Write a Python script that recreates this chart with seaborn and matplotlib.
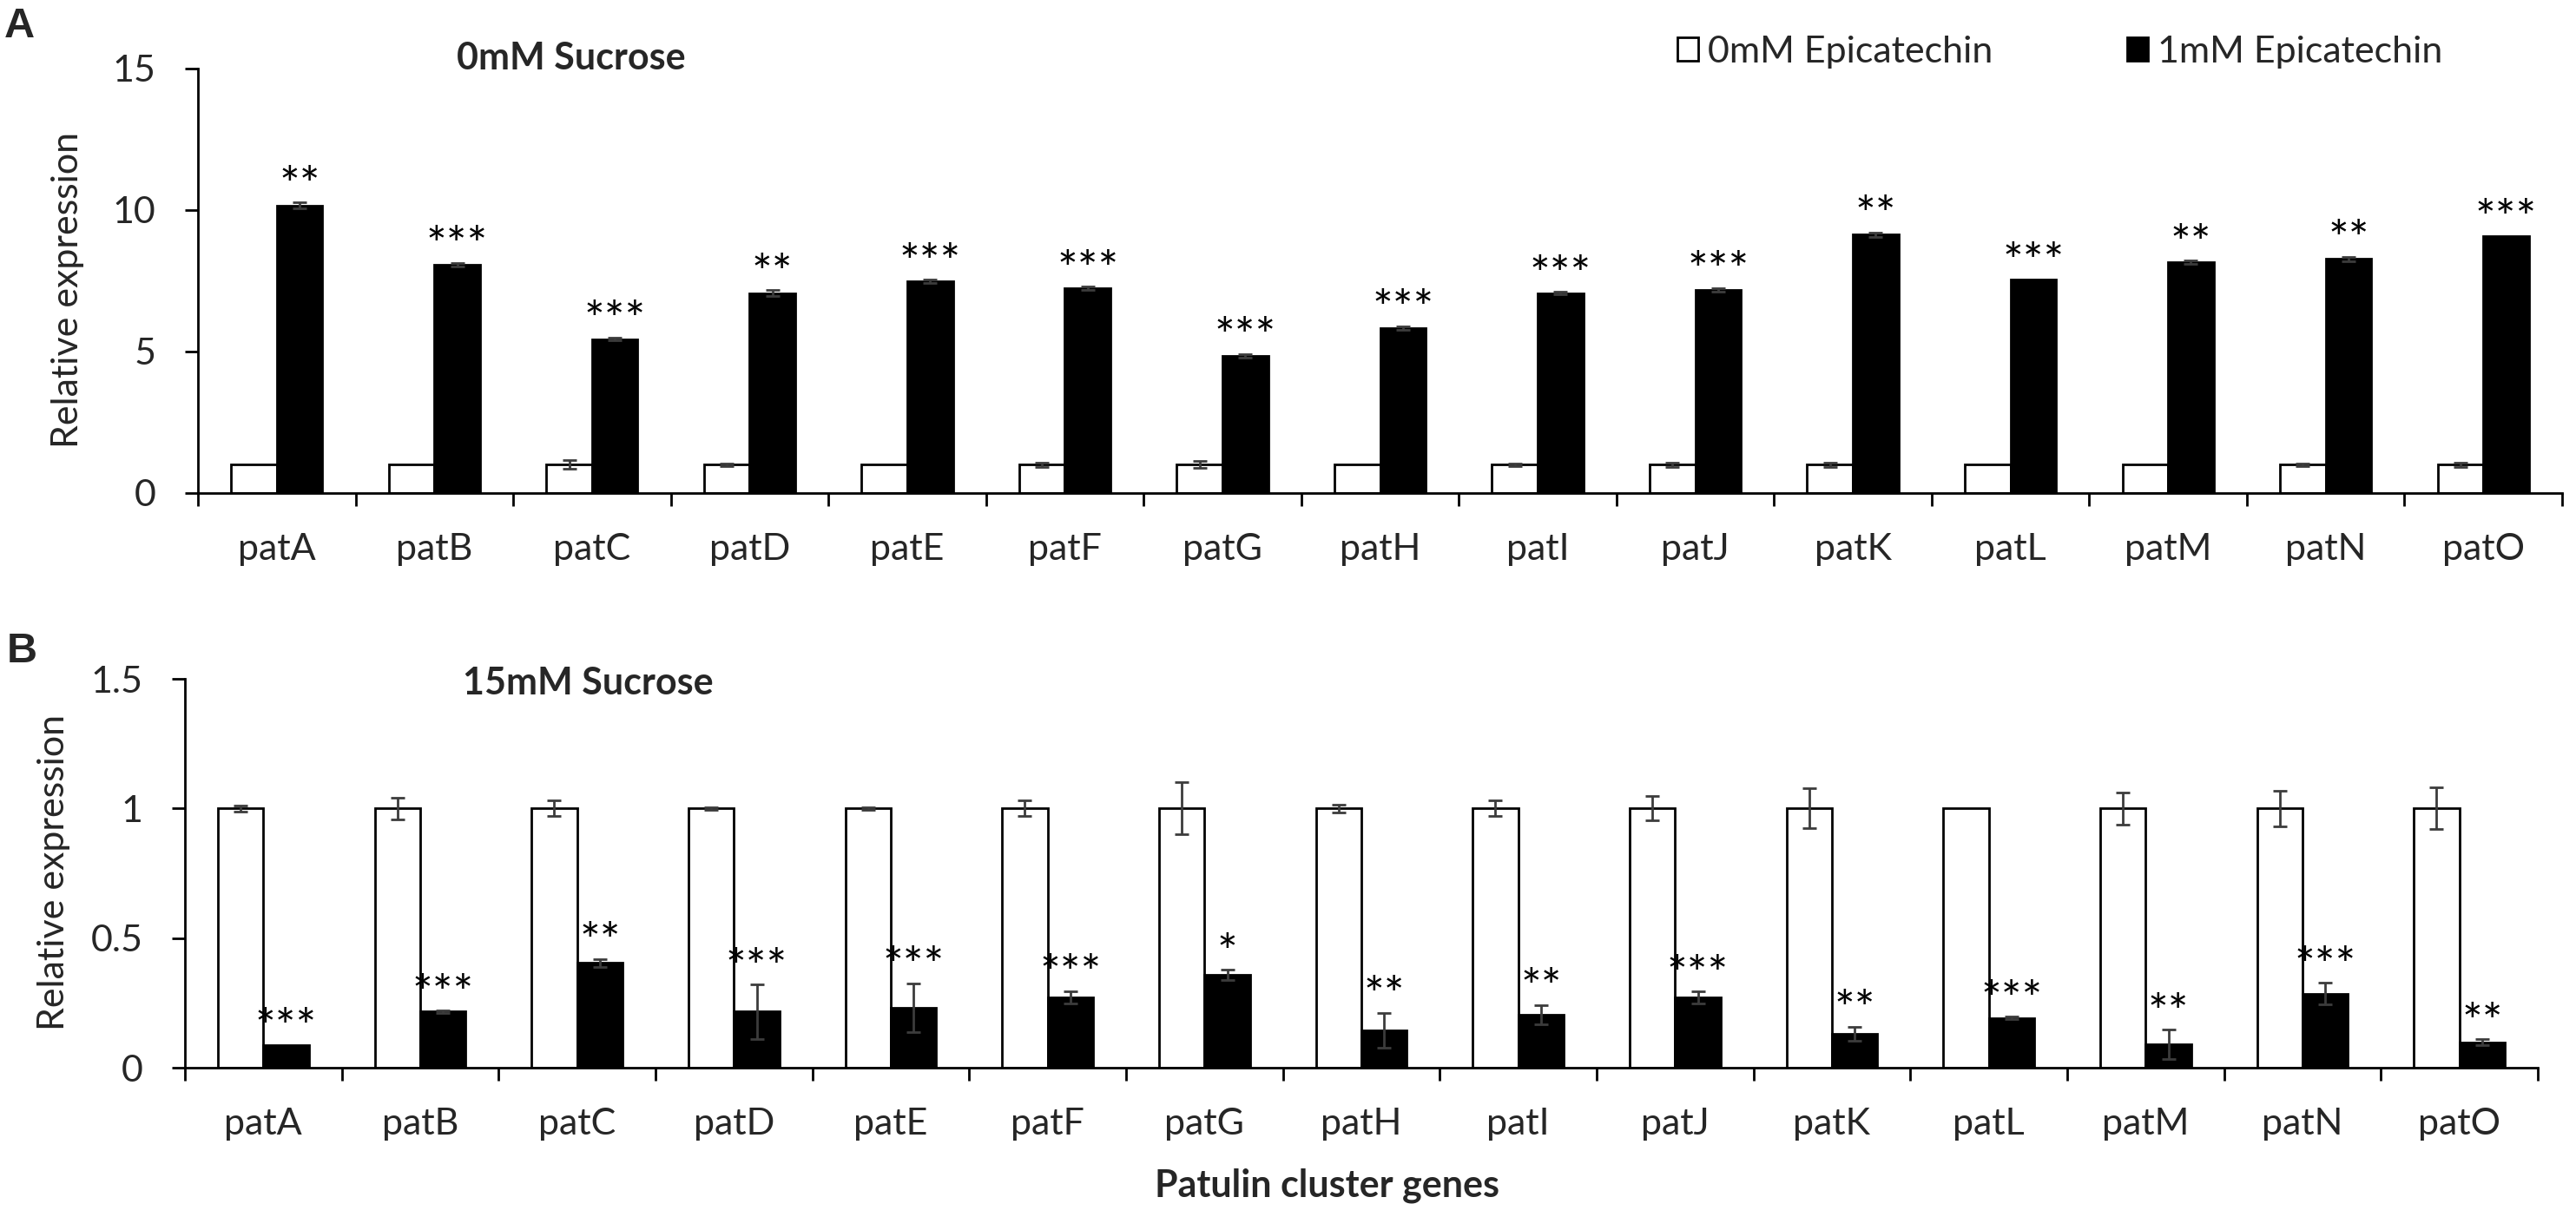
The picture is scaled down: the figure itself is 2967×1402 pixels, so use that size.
import numpy as np
import pandas as pd
import matplotlib
matplotlib.use("Agg")
import matplotlib.pyplot as plt
import seaborn as sns

# ---------------- data ----------------
genes = ["patA", "patB", "patC", "patD", "patE", "patF", "patG", "patH",
         "patI", "patJ", "patK", "patL", "patM", "patN", "patO"]
hue_levels = ["0mM Epicatechin", "1mM Epicatechin"]

top_ctrl = [1.0] * 15
top_ctrl_err = [0, 0, 0.15, 0.05, 0, 0.08, 0.12, 0, 0.05, 0.07, 0.07, 0, 0, 0.05, 0.07]
top_epi = [10.16, 8.07, 5.44, 7.06, 7.48, 7.23, 4.85, 5.83, 7.06, 7.18, 9.13, 7.55, 8.15, 8.27, 9.08]
top_epi_err = [0.1, 0.06, 0.05, 0.1, 0.06, 0.06, 0.06, 0.06, 0.05, 0.06, 0.08, 0, 0.06, 0.08, 0]
top_sig = ["**", "***", "***", "**", "***", "***", "***", "***", "***", "***",
           "**", "***", "**", "**", "***"]

bot_ctrl = [1.0] * 15
bot_ctrl_err = [0.012, 0.042, 0.03, 0.005, 0.005, 0.03, 0.10, 0.015, 0.03, 0.047,
                0.077, 0, 0.063, 0.069, 0.08]
bot_epi = [0.088, 0.216, 0.404, 0.216, 0.231, 0.272, 0.357, 0.144, 0.204, 0.272,
           0.131, 0.191, 0.09, 0.285, 0.098]
bot_epi_err = [0, 0.005, 0.015, 0.105, 0.095, 0.024, 0.02, 0.068, 0.038, 0.023,
               0.028, 0.005, 0.056, 0.042, 0.012]
bot_sig = ["***", "***", "**", "***", "***", "***", "*", "**", "**", "***",
           "**", "***", "**", "***", "**"]

top_yticks = [0, 5, 10, 15]
top_yticklabels = ["0", "5", "10", "15"]
bot_yticks = [0, 0.5, 1, 1.5]
bot_yticklabels = ["0", "0.5", "1", "1.5"]

# ---------------- style ----------------
sns.set_style("white")
plt.rcParams["font.family"] = ["Lato", "DejaVu Sans"]
FS = 31
STAR_FS = 40

W, H = 2967, 1402
fig = plt.figure(figsize=(W / 100, H / 100), dpi=100)

ax_top = fig.add_axes([228 / W, 1 - 568 / H, 2723 / W, (568 - 78.6) / H])
ax_bot = fig.add_axes([213 / W, 1 - 1230 / H, 2710 / W, (1230 - 782) / H])


def panel(ax, ctrl, ctrl_err, epi, epi_err, sig, yticks, yticklabels, ymax, show_legend):
    df = pd.DataFrame({
        "gene": genes * 2,
        "treat": [hue_levels[0]] * len(genes) + [hue_levels[1]] * len(genes),
        "value": list(ctrl) + list(epi),
    })
    sns.barplot(data=df, x="gene", y="value", hue="treat", order=genes,
                hue_order=hue_levels, palette=["white", "black"], saturation=1,
                edgecolor="black", linewidth=2.0, width=0.58, errorbar=None,
                ax=ax, legend=show_legend)
    for cont, errs, marks in zip(ax.containers, [ctrl_err, epi_err], [None, sig]):
        xs, ys = [], []
        for rect in cont:
            xs.append(rect.get_x() + rect.get_width() / 2)
            ys.append(rect.get_height())
        xs = np.array(xs); ys = np.array(ys); errs = np.array(errs, dtype=float)
        m = errs > 0
        ax.errorbar(xs[m], ys[m], yerr=errs[m], fmt="none", ecolor="#3c3c3c",
                    elinewidth=2.0, capsize=5.6, capthick=2.0, zorder=5)
        if marks is not None:
            for x, y, e, s in zip(xs, ys, errs, marks):
                ax.annotate(s, xy=(x, y + e), xytext=(0, 1), textcoords="offset points",
                            ha="center", va="baseline", fontsize=STAR_FS, color="black")
    ax.set_xlim(-0.5, len(genes) - 0.5)
    ax.set_ylim(0, ymax)
    ax.set_yticks(yticks)
    ax.set_yticklabels(yticklabels)
    ax.set_xticks(np.arange(-0.5, len(genes), 1))
    ax.set_xticklabels([])
    ax.set_xticks(np.arange(len(genes)), minor=True)
    ax.set_xticklabels(genes, minor=True)
    ax.tick_params(axis="x", which="minor", length=0, pad=33, labelsize=FS)
    ax.tick_params(axis="x", which="major", length=11, width=2, direction="out",
                   bottom=True, color="black")
    ax.tick_params(axis="y", length=11, width=2, direction="out", left=True,
                   pad=24, labelsize=FS, color="black")
    for sp in ["top", "right"]:
        ax.spines[sp].set_visible(False)
    for sp in ["left", "bottom"]:
        ax.spines[sp].set_linewidth(2)
        ax.spines[sp].set_color("black")
    ax.set_xlabel("")
    ax.set_ylabel("Relative expression", fontsize=FS)
    ax.yaxis.label.set_va("center")


panel(ax_top, top_ctrl, top_ctrl_err, top_epi, top_epi_err, top_sig,
      top_yticks, top_yticklabels, 15, True)
panel(ax_bot, bot_ctrl, bot_ctrl_err, bot_epi, bot_epi_err, bot_sig,
      bot_yticks, bot_yticklabels, 1.5, False)

ax_top.yaxis.set_label_coords(-0.0551, 0.478)
ax_bot.yaxis.set_label_coords(-0.0557, 0.502)

sns.move_legend(ax_top, loc="center left", bbox_to_anchor=(1932 / W, 1 - 60 / H),
                bbox_transform=fig.transFigure, ncol=2, frameon=False, title=None,
                fontsize=FS, handlelength=0.56, handleheight=0.58, handletextpad=0.25,
                columnspacing=3.6, borderpad=0, borderaxespad=0)

fig.text(526 / W, 1 - 67 / H, "0mM Sucrose", fontsize=FS, fontweight="bold",
         ha="left", va="center")
fig.text(533 / W, 1 - 787 / H, "15mM Sucrose", fontsize=FS, fontweight="bold",
         ha="left", va="center")
fig.text(1528 / W, 1 - 1379 / H, "Patulin cluster genes", fontsize=FS,
         fontweight="bold", ha="center", va="baseline")
fig.text(5 / W, 1 - 43 / H, "A", fontsize=35, fontweight="bold",
         family=["Liberation Sans", "DejaVu Sans"], ha="left", va="baseline")
fig.text(8 / W, 1 - 763 / H, "B", fontsize=35, fontweight="bold",
         family=["Liberation Sans", "DejaVu Sans"], ha="left", va="baseline")

fig.savefig("out.png", dpi=100, facecolor="white")
